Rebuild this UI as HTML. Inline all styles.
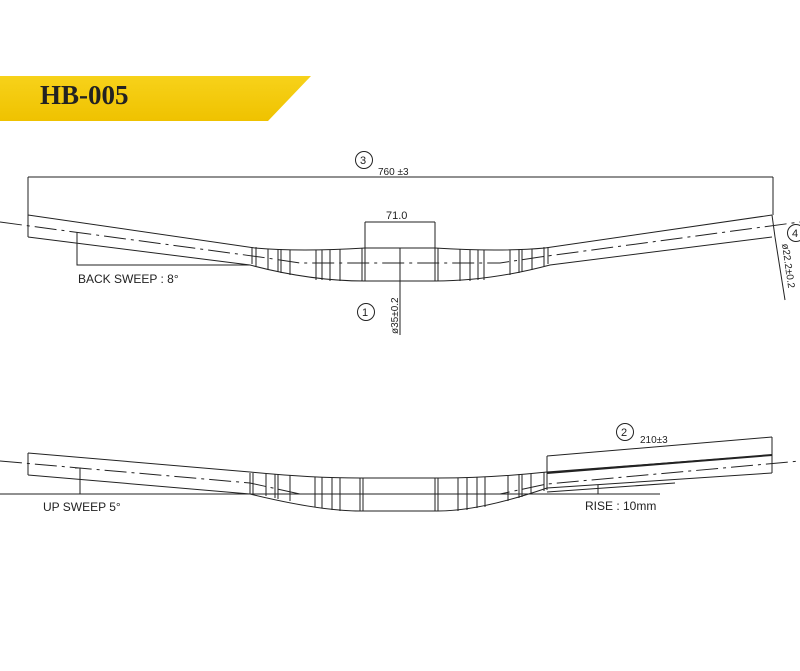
<!DOCTYPE html>
<html><head><meta charset="utf-8"><style>
html,body{margin:0;padding:0;background:#fff;}
svg{display:block;}
text{font-family:"Liberation Sans",sans-serif;fill:#222;}
</style></head><body>
<svg width="800" height="671" viewBox="0 0 800 671" xmlns="http://www.w3.org/2000/svg">
<defs><linearGradient id="g" x1="0" y1="0" x2="0" y2="1"><stop offset="0" stop-color="#f7d21a"/><stop offset="1" stop-color="#efc200"/></linearGradient></defs>
<polygon points="0,76 311,76 268,121 0,121" fill="url(#g)"/>
<text x="40" y="104" font-family="Liberation Serif,serif" font-weight="bold" font-size="27" style="font-family:'Liberation Serif',serif">HB-005</text>

<g stroke="#222" stroke-width="1" fill="none">
<!-- TOP VIEW -->
<line x1="28" y1="177" x2="773" y2="177"/>
<line x1="28" y1="177" x2="28" y2="237"/>
<line x1="773" y1="177" x2="773" y2="215"/>
<path d="M28,215 L255,248 Q300,252 365,248"/>
<path d="M28,237 L250,265 Q310,281 365,281"/>
<path d="M772,215 L545,248 Q500,252 435,248"/>
<path d="M772,237 L550,265 Q490,281 435,281"/>
<line x1="28" y1="215" x2="28" y2="237"/>
<line x1="772" y1="215" x2="775" y2="237"/>
<rect x="365" y="248" width="70" height="33"/>
<line x1="362" y1="248" x2="362" y2="281"/><line x1="438" y1="248" x2="438" y2="281"/>
<g>
<line x1="252" y1="247" x2="252" y2="264"/><line x1="256" y1="247" x2="256" y2="266"/>
<line x1="268" y1="249" x2="268" y2="270"/><line x1="278" y1="249" x2="278" y2="272"/><line x1="281" y1="249" x2="281" y2="273"/>
<line x1="290" y1="250" x2="290" y2="275"/><line x1="316" y1="250" x2="316" y2="280"/><line x1="322" y1="250" x2="322" y2="280"/><line x1="330" y1="250" x2="330" y2="281"/><line x1="340" y1="249" x2="340" y2="281"/>
<line x1="548" y1="247" x2="548" y2="264"/><line x1="544" y1="247" x2="544" y2="266"/>
<line x1="532" y1="249" x2="532" y2="270"/><line x1="522" y1="249" x2="522" y2="272"/><line x1="519" y1="249" x2="519" y2="273"/>
<line x1="510" y1="250" x2="510" y2="275"/><line x1="484" y1="250" x2="484" y2="280"/><line x1="478" y1="250" x2="478" y2="280"/><line x1="470" y1="250" x2="470" y2="281"/><line x1="460" y1="249" x2="460" y2="281"/>
</g>
<path d="M0,222 L260,257 L300,263 L500,263 L540,257 L800,222" stroke-dasharray="22,5,3,5"/>
<line x1="365" y1="222" x2="435" y2="222"/>
<line x1="365" y1="222" x2="365" y2="248"/><line x1="435" y1="222" x2="435" y2="248"/>
<line x1="400" y1="248" x2="400" y2="335"/>
<polyline points="77,232 77,265 250,265"/>
<line x1="775" y1="237" x2="785" y2="300"/>
<circle cx="364" cy="160" r="8.5"/>
<circle cx="366" cy="312" r="8.5"/>
<circle cx="796" cy="233" r="8.5"/>

<!-- BOTTOM VIEW -->
<path d="M28,453 L250,472 Q310,478 360,478 L438,478 Q490,478 547,472 L772,455"/>
<path d="M28,475 L250,494 Q320,511 360,511 L438,511 Q480,511 547,488 L772,473"/>
<line x1="28" y1="453" x2="28" y2="475"/>
<line x1="772" y1="455" x2="772" y2="473"/>
<line x1="547" y1="492" x2="675" y2="483"/>
<line x1="0" y1="494" x2="660" y2="494"/>
<line x1="360" y1="478" x2="360" y2="511"/><line x1="363" y1="478" x2="363" y2="511"/>
<line x1="435" y1="478" x2="435" y2="511"/><line x1="438" y1="478" x2="438" y2="511"/>
<g>
<line x1="250" y1="473" x2="250" y2="494"/><line x1="253" y1="473" x2="253" y2="495"/><line x1="266" y1="474" x2="266" y2="496"/><line x1="275" y1="474" x2="275" y2="498"/><line x1="278" y1="474" x2="278" y2="499"/><line x1="290" y1="475" x2="290" y2="501"/>
<line x1="315" y1="477" x2="315" y2="507"/><line x1="322" y1="477" x2="322" y2="508"/><line x1="332" y1="478" x2="332" y2="510"/><line x1="340" y1="478" x2="340" y2="511"/>
<line x1="547" y1="472" x2="547" y2="490"/><line x1="544" y1="472" x2="544" y2="491"/><line x1="531" y1="474" x2="531" y2="494"/><line x1="522" y1="474" x2="522" y2="497"/><line x1="519" y1="474" x2="519" y2="498"/><line x1="508" y1="475" x2="508" y2="501"/>
<line x1="485" y1="477" x2="485" y2="507"/><line x1="477" y1="477" x2="477" y2="508"/><line x1="467" y1="478" x2="467" y2="510"/><line x1="458" y1="478" x2="458" y2="511"/>
</g>
<path d="M0,461 L250,483 L300,494 L500,494 L547,484 L800,461" stroke-dasharray="22,5,3,5"/>
<line x1="547" y1="456" x2="772" y2="437"/>
<line x1="547" y1="456" x2="547" y2="473"/>
<line x1="772" y1="437" x2="772" y2="455"/>
<polyline points="75,468 80,468 80,494"/>
<line x1="598" y1="485" x2="598" y2="494"/>
<circle cx="625" cy="432" r="8.5"/>
</g>
<line x1="547" y1="473" x2="772" y2="455" stroke="#222" stroke-width="2"/>

<g font-size="11">
<text x="360" y="164">3</text>
<text x="362" y="316">1</text>
<text x="792" y="237">4</text>
<text x="621" y="436">2</text>
</g>
<text x="378" y="175" font-size="10">760 ±3</text>
<text x="386" y="219" font-size="11">71.0</text>
<text transform="translate(398,334) rotate(-90)" font-size="10">ø35±0.2</text>
<text transform="translate(782,244) rotate(82)" font-size="10">ø22.2±0.2</text>
<text x="78" y="283" font-size="12">BACK SWEEP : 8°</text>
<text x="43" y="511" font-size="12">UP SWEEP 5°</text>
<text x="585" y="510" font-size="12">RISE : 10mm</text>
<text x="640" y="443" font-size="10">210±3</text>
</svg>
</body></html>
